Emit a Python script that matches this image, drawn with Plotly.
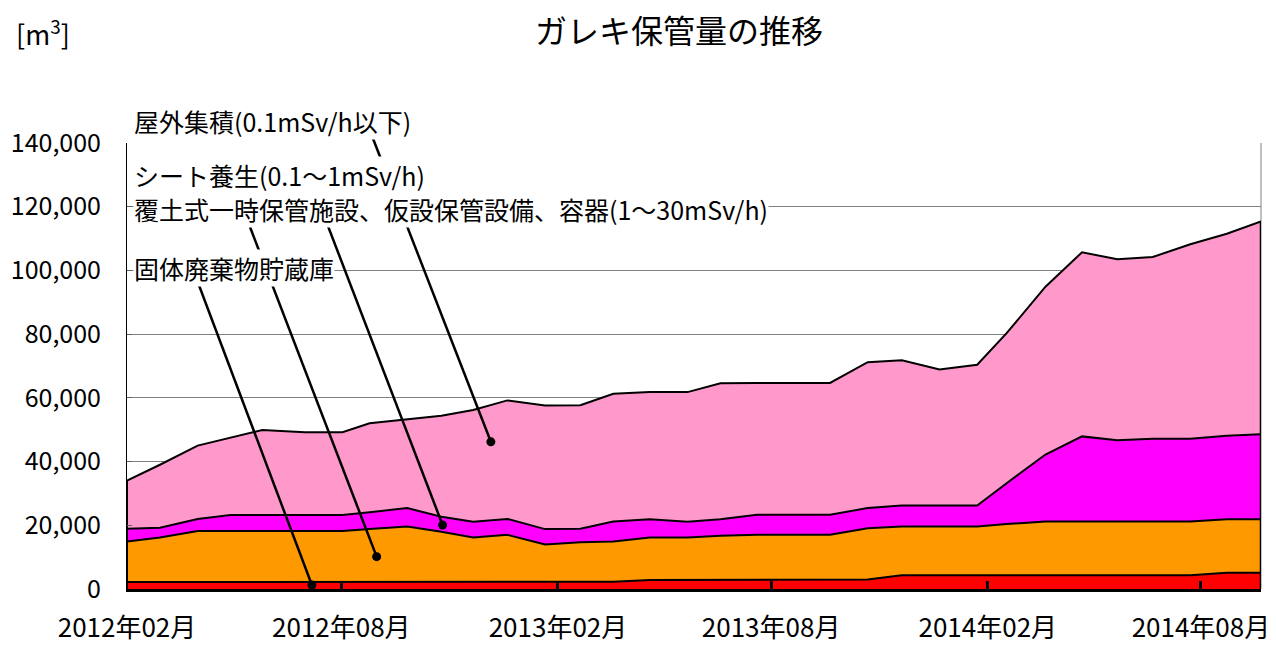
import plotly.graph_objects as go
import datetime as _dt

# ---------------- data ----------------
dates = ["2012-02-01", "2012-02-29", "2012-04-01", "2012-04-29", "2012-05-26", "2012-07-01",
         "2012-08-02", "2012-08-25", "2012-09-26", "2012-10-25", "2012-11-21", "2012-12-20",
         "2013-01-21", "2013-02-20", "2013-03-20", "2013-04-20", "2013-05-22", "2013-06-19",
         "2013-07-20", "2013-08-20", "2013-09-20", "2013-10-22", "2013-11-20", "2013-12-22",
         "2014-01-23", "2014-02-17", "2014-03-22", "2014-04-22", "2014-05-22", "2014-06-21",
         "2014-07-23", "2014-08-23", "2014-09-21"]

solid_waste = [2200] * 14 + [2300] + [2800] * 6 + [3000] + [4300] * 9 + [5100] * 2
covered_storage = [12700, 14000, 16000, 16000, 16000, 16000, 16000, 16600, 17400, 15800, 14000,
                   14800, 11800, 12500, 12600, 13400, 13400, 13900, 14200, 14200, 14200, 16100,
                   15300, 15300, 15300, 16100, 16900, 16900, 16900, 16900, 16900, 16800, 16800]
sheet_cover = [4000, 3000, 3800, 5000, 5000, 5000, 5000, 5300, 5800, 4700, 4900, 5000, 4800,
               4200, 6300, 5700, 4900, 5200, 6300, 6300, 6300, 6300, 6600, 6600, 6600, 12800,
               21000, 26700, 25500, 26000, 26000, 26200, 26700]
outdoor = [15100, 19800, 23000, 24300, 26700, 26000, 26000, 27900, 27800, 31700, 35100, 37200,
           38800, 38800, 40100, 39900, 40700, 42700, 41400, 41400, 41400, 45800, 45600, 42700,
           44200, 47100, 52700, 57800, 56800, 57000, 61000, 63400, 66800]

series_names = ["固体廃棄物貯蔵庫",
                "覆土式一時保管施設、仮設保管設備、容器(1～30mSv/h)",
                "シート養生(0.1～1mSv/h)",
                "屋外集積(0.1mSv/h以下)"]
series_values = [solid_waste, covered_storage, sheet_cover, outdoor]
series_colors = ["#FF0000", "#FF9900", "#FF00FF", "#FF99CC"]

# label dot anchors (date, value) for each series label
dot_dates = ["2012-07-07", "2012-08-31", "2012-10-26", "2012-12-06"]
dot_values = [1260, 10150, 20100, 46200]

title_text = "ガレキ保管量の推移"
unit_text = "[m<sup>3</sup>]"
y_max = 140000

# ---------------- layout geometry ----------------
OFF = 8                      # default page body margin
W, H = 1268, 637
L, R, T, B = 119, 15, 135, 56
PW, PH = W - L - R, H - T - B
FONT = "Noto Sans CJK JP, Noto Sans, sans-serif"

def px(xp):
    return (xp - OFF - L) / PW

def py(yp):
    return (OFF + H - B - yp) / PH

fig = go.Figure()

for name, vals, col in zip(series_names, series_values, series_colors):
    fig.add_trace(go.Scatter(x=dates, y=vals, name=name, mode="lines", stackgroup="one",
                             line=dict(color="black", width=2), fillcolor=col,
                             hoverinfo="skip", showlegend=False))

totals = [sum(v) for v in zip(*series_values)]
# vertical borders of the area block
fig.add_trace(go.Scatter(x=[dates[-1], dates[-1]], y=[0, totals[-1]], mode="lines",
                         line=dict(color="black", width=2.5), showlegend=False, hoverinfo="skip",
                         cliponaxis=False))
fig.add_trace(go.Scatter(x=[dates[0], dates[0]], y=[0, totals[0]], mode="lines",
                         line=dict(color="black", width=2), showlegend=False, hoverinfo="skip",
                         cliponaxis=False))

# leader dots
fig.add_trace(go.Scatter(x=dot_dates, y=dot_values, mode="markers",
                         marker=dict(color="black", size=9), showlegend=False,
                         hoverinfo="skip", cliponaxis=False))

# label positions (pixel) and leader start points
label_y = [268, 208.5, 175, 121]
lead_start = [(197, 280), (250, 227), (313, 187), (372, 136)]

d0 = _dt.date.fromisoformat(dates[0])
d1 = _dt.date.fromisoformat(dates[-1])
span = (d1 - d0).days

shapes = []
for (sx, sy), dd, dv in zip(lead_start, dot_dates, dot_values):
    ex = (_dt.date.fromisoformat(dd) - d0).days / span
    ey = dv / y_max
    shapes.append(dict(type="line", xref="paper", yref="paper", x0=px(sx), y0=py(sy),
                       x1=ex, y1=ey, line=dict(color="black", width=2.5), layer="above"))
# right plot border
shapes.append(dict(type="line", xref="paper", yref="paper", x0=1, x1=1, y0=0, y1=1,
                   line=dict(color="#808080", width=1), layer="below"))

annotations = []
for name, ly in zip(series_names, label_y):
    annotations.append(dict(text=name, xref="paper", yref="paper", x=px(133), y=py(ly),
                            xanchor="left", yanchor="middle", showarrow=False,
                            bgcolor="white", borderpad=0,
                            font=dict(size=25, color="black", family=FONT)))
annotations.append(dict(text=title_text, xref="paper", yref="paper", x=px(679), y=py(29),
                        xanchor="center", yanchor="middle", showarrow=False,
                        font=dict(size=32, color="black", family=FONT)))
annotations.append(dict(text=unit_text, xref="paper", yref="paper", x=px(14), y=py(32),
                        xanchor="left", yanchor="middle", showarrow=False,
                        font=dict(size=27, color="black", family=FONT)))

fig.update_layout(
    width=W, height=H,
    margin=dict(l=L, r=R, t=T, b=B, autoexpand=False),
    paper_bgcolor="white", plot_bgcolor="white",
    font=dict(family=FONT, size=26, color="black"),
    shapes=shapes, annotations=annotations,
    showlegend=False,
)
fig.update_xaxes(type="date", range=[dates[0], dates[-1]], tick0="2012-02-01", dtick="M6",
                 tickformat="%Y年%m月", ticks="inside", ticklen=8, tickwidth=3,
                 tickcolor="black", showline=True, linecolor="black", linewidth=3,
                 showgrid=False, ticklabelstandoff=14, automargin=False,
                 tickfont=dict(size=26, family=FONT))
fig.update_yaxes(range=[0, y_max], dtick=20000, tickformat=",", ticks="inside", ticklen=5,
                 tickcolor="#606060", showgrid=True, gridcolor="#808080", gridwidth=1,
                 showline=True, linecolor="black", linewidth=1, zeroline=False,
                 ticklabelstandoff=20, automargin=False,
                 tickfont=dict(size=25, family=FONT))

fig.write_html("out.html")
